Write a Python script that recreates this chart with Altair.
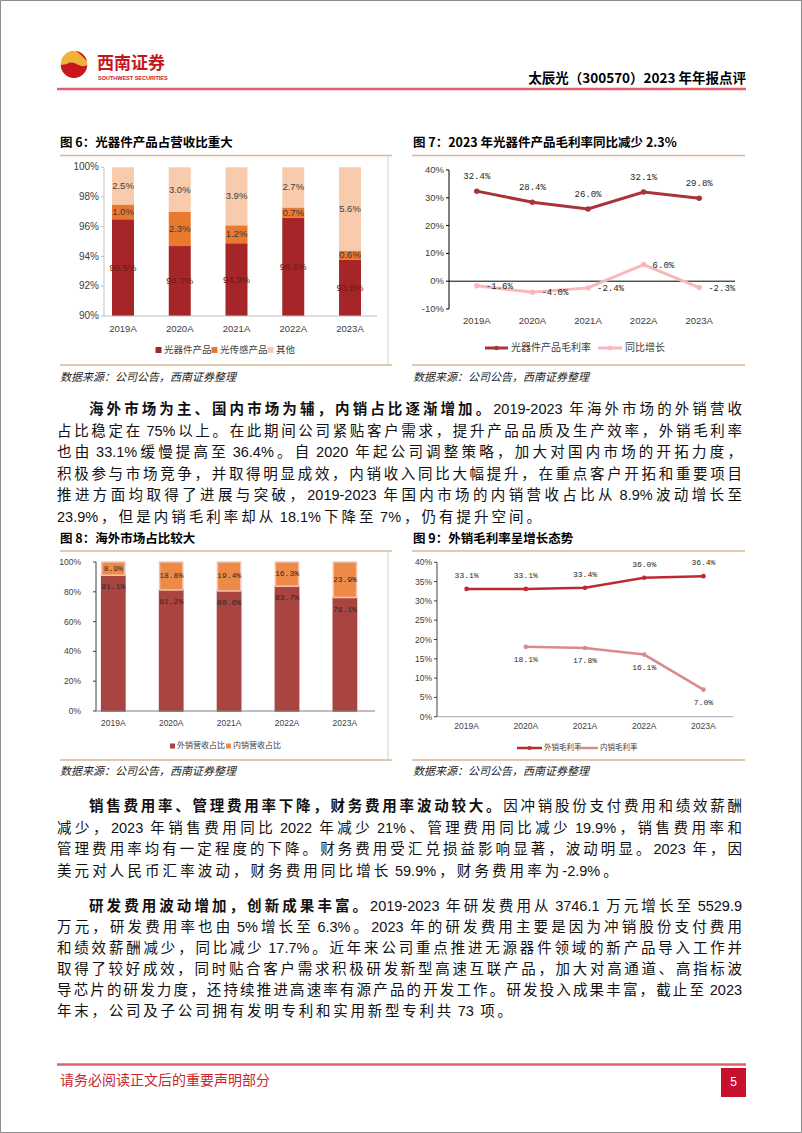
import altair as alt
import pandas as pd

W, H = 802, 1133
CJK = "Noto Sans CJK SC"
LAT = "Liberation Sans"
MONO = "Liberation Mono"
NARROW = "Liberation Sans Narrow, Liberation Sans"

years = ["2019A", "2020A", "2021A", "2022A", "2023A"]

# ---------------- data ----------------
fig6_series = ["光器件产品", "光传感产品", "其他"]
fig6_optical = [96.5, 94.7, 94.9, 96.6, 93.8]
fig6_sensing = [1.0, 2.3, 1.2, 0.7, 0.6]
fig6_other = [2.5, 3.0, 3.9, 2.7, 5.6]
fig6_ticks = [90, 92, 94, 96, 98, 100]

fig7_series = ["光器件产品毛利率", "同比增长"]
fig7_margin = [32.4, 28.4, 26.0, 32.1, 29.8]
fig7_yoy = [-1.6, -4.0, -2.4, 6.0, -2.3]
fig7_ticks = [-10, 0, 10, 20, 30, 40]

fig8_series = ["外销营收占比", "内销营收占比"]
fig8_export = [91.1, 81.2, 80.6, 83.7, 76.1]
fig8_domestic = [8.9, 18.8, 19.4, 16.3, 23.9]
fig8_ticks = [0, 20, 40, 60, 80, 100]

fig9_series = ["外销毛利率", "内销毛利率"]
fig9_export = [33.1, 33.1, 33.4, 36.0, 36.4]
fig9_domestic = [None, 18.1, 17.8, 16.1, 7.0]
fig9_ticks = [0, 5, 10, 15, 20, 25, 30, 35, 40]

header_title = "太辰光（300570）2023 年年报点评"
fig_titles = ["图 6：光器件产品占营收比重大", "图 7：2023 年光器件产品毛利率同比减少 2.3%",
              "图 8：海外市场占比较大", "图 9：外销毛利率呈增长态势"]
source_text = "数据来源：公司公告，西南证券整理"
footer_text = "请务必阅读正文后的重要声明部分"
page_no = "5"

para1 = [
    ("海外市场为主、国内市场为辅，内销占比逐渐增加。", "2019-2023 年海外市场的外销营收"),
    ("", "占比稳定在 75%以上。在此期间公司紧贴客户需求，提升产品品质及生产效率，外销毛利率"),
    ("", "也由 33.1%缓慢提高至 36.4%。自 2020 年起公司调整策略，加大对国内市场的开拓力度，"),
    ("", "积极参与市场竞争，并取得明显成效，内销收入同比大幅提升，在重点客户开拓和重要项目"),
    ("", "推进方面均取得了进展与突破，2019-2023 年国内市场的内销营收占比从 8.9%波动增长至"),
    ("", "23.9%，但是内销毛利率却从 18.1%下降至 7%，仍有提升空间。"),
]
para2 = [
    ("销售费用率、管理费用率下降，财务费用率波动较大。", "因冲销股份支付费用和绩效薪酬"),
    ("", "减少，2023 年销售费用同比 2022 年减少 21%、管理费用同比减少 19.9%，销售费用率和"),
    ("", "管理费用率均有一定程度的下降。财务费用受汇兑损益影响显著，波动明显。2023 年，因"),
    ("", "美元对人民币汇率波动，财务费用同比增长 59.9%，财务费用率为-2.9%。"),
]
para3 = [
    ("研发费用波动增加，创新成果丰富。", "2019-2023 年研发费用从 3746.1 万元增长至 5529.9"),
    ("", "万元，研发费用率也由 5%增长至 6.3%。2023 年的研发费用主要是因为冲销股份支付费用"),
    ("", "和绩效薪酬减少，同比减少 17.7%。近年来公司重点推进无源器件领域的新产品导入工作并"),
    ("", "取得了较好成效，同时贴合客户需求积极研发新型高速互联产品，加大对高通道、高指标波"),
    ("", "导芯片的研发力度，还持续推进高速率有源产品的开发工作。研发投入成果丰富，截止至 2023"),
    ("", "年末，公司及子公司拥有发明专利和实用新型专利共 73 项。"),
]

dummy = alt.Data(values=[{"a": 1}])

# ---------------- helpers ----------------
def band(domain, a0, a1, first_center, step, bw):
    n = len(domain)
    L = a1 - a0
    pi = 1 - bw / step
    po = max(0.0, (L / step - (n - pi)) / 2)
    st = L / (n - pi + 2 * po)
    left = L - st * (n - pi)
    start = first_center - st * (1 - pi) / 2
    al = (start - a0) / left if left > 0 else 0.5
    al = min(1.0, max(0.0, al))
    return alt.Scale(domain=domain, range=[a0, a1], paddingInner=pi, paddingOuter=po, align=al)


def txt(s, x, y, size, color="#000", weight="normal", align="left", font=CJK, style="normal"):
    return alt.Chart(dummy).mark_text(text=s, align=align, baseline="middle", fontSize=size,
                                      fontWeight=weight, color=color, font=font,
                                      fontStyle=style).encode(x=alt.value(x), y=alt.value(y))


def hline(x0, x1, y, color, w=1.0):
    return alt.Chart(dummy).mark_rule(color=color, strokeWidth=w).encode(
        x=alt.value(x0), x2=alt.value(x1), y=alt.value(y))


def vline(x, y0, y1, color, w=1.0):
    return alt.Chart(dummy).mark_rule(color=color, strokeWidth=w).encode(
        x=alt.value(x), y=alt.value(y0), y2=alt.value(y1))


def sq(x, y, color, size=36):
    return alt.Chart(dummy).mark_square(color=color, size=size, opacity=1).encode(
        x=alt.value(x), y=alt.value(y))


def dot(x, y, color, size=20):
    return alt.Chart(dummy).mark_circle(color=color, size=size, opacity=1).encode(
        x=alt.value(x), y=alt.value(y))


def y_axis(ys, vals, x0, lab_x, size, font, color="#404040", dcolor="#404040", tick=3):
    df = pd.DataFrame({"v": vals, "lab": [f"{v}%" for v in vals]})
    labels = alt.Chart(df).mark_text(align="right", baseline="middle", fontSize=size, font=font,
                                     color=color).encode(
        y=alt.Y("v:Q", scale=ys, axis=None), x=alt.value(lab_x), text="lab:N")
    out = [labels]
    if tick:
        out.append(alt.Chart(df).mark_rule(color=dcolor).encode(
            y=alt.Y("v:Q", scale=ys, axis=None), x=alt.value(x0 - tick), x2=alt.value(x0)))
    out.append(alt.Chart(pd.DataFrame({"a": [min(vals)], "b": [max(vals)]})).mark_rule(
        color=dcolor).encode(y=alt.Y("a:Q", scale=ys, axis=None), y2="b:Q", x=alt.value(x0)))
    return out


def x_axis(xs, y_lab, size, font, a0=None, a1=None, y0=None, dcolor="#404040"):
    df = pd.DataFrame({"year": years})
    out = [alt.Chart(df).mark_text(baseline="middle", fontSize=size, font=font,
                                   color="#404040").encode(
        x=alt.X("year:N", scale=xs, axis=None), y=alt.value(y_lab), text="year:N")]
    if a0 is not None:
        out.append(hline(a0, a1, y0, dcolor))
    return out


ASCII_W = {".": 0.278, "%": 0.889, "-": 0.333}


def tokens(part, bold, fs):
    out = []
    gap = 0.0
    buf = ""
    bgap = 0.0
    for ch in part + "\0":
        if ch == "\0" or ch == " " or ord(ch) > 0x2000:
            if buf:
                w = sum(ASCII_W.get(c, 0.556) for c in buf) * fs
                out.append(dict(text=buf, w=w, gap=bgap, bold=bold, kind="lat"))
                buf = ""
            if ch == " ":
                gap += 0.25 * fs
            elif ch != "\0":
                out.append(dict(text=ch, w=fs, gap=gap, bold=bold, kind="cjk"))
                gap = 0.0
        else:
            if not buf:
                bgap = gap
                gap = 0.0
            buf += ch
    return out


def layout_para(lines, y0, dy, x0, x1, indent, fs):
    rows = []
    extras = []
    prepared = []
    for i, (b, n) in enumerate(lines):
        toks = tokens(b, True, fs) + tokens(n, False, fs)
        start = x0 + (indent if i == 0 else 0)
        natural = sum(t["gap"] + t["w"] for t in toks)
        last = i == len(lines) - 1
        ex = (x1 - start - natural) / (len(toks) - 1)
        if not last:
            extras.append(ex)
        prepared.append((toks, start, last, ex))
    avg = sum(extras) / len(extras) if extras else 0
    for i, (toks, start, last, ex) in enumerate(prepared):
        e = min(avg, ex) if last else ex
        x = start
        for t in toks:
            x += t["gap"]
            rows.append(dict(x=x, y=y0 + i * dy, text=t["text"], bold=t["bold"], kind=t["kind"]))
            x += t["w"] + e
    return rows


# ---------------- figure 6 ----------------
def fig6():
    rows = []
    specs = [(fig6_series[0], fig6_optical, "#A52528", "#6A1A1A"),
             (fig6_series[1], fig6_sensing, "#E9792F", "#3A3A3A"),
             (fig6_series[2], fig6_other, "#F8CBAD", "#404040")]
    for i, yr in enumerate(years):
        cum = 0.0
        for s, vals, col, tcol in specs:
            v = vals[i]
            st, en = cum, cum + v
            cum = en
            lo = max(st, 90.0)
            rows.append(dict(year=yr, series=s, start=st, end=en, mid=(lo + en) / 2,
                             label=f"{v:.1f}%", color=col, tcolor=tcol))
    df = pd.DataFrame(rows)
    xs = band(years, 104, 377, 123, 56.75, 22)
    ys = alt.Scale(domain=[90, 100], range=[316, 167.3], clamp=True)
    base = alt.Chart(df)
    bars = base.mark_bar().encode(
        x=alt.X("year:N", scale=xs, axis=None),
        y=alt.Y("start:Q", scale=ys, axis=None),
        y2="end:Q",
        color=alt.Color("color:N", scale=None))
    labels = base.mark_text(fontSize=9.5, font=LAT, baseline="middle").encode(
        x=alt.X("year:N", scale=xs, axis=None),
        y=alt.Y("mid:Q", scale=ys, axis=None),
        text="label:N",
        color=alt.Color("tcolor:N", scale=None))
    axes = (y_axis(ys, fig6_ticks, 104, 99, 10, LAT, dcolor="#BFBFBF")
            + x_axis(xs, 329, 9.5, LAT, 104, 377, 316, "#BFBFBF"))
    legend = [sq(158.5, 350, "#A52528"), txt(fig6_series[0], 164, 350, 9.5, "#404040"),
              sq(214.5, 350, "#E9792F"), txt(fig6_series[1], 220, 350, 9.5, "#404040"),
              sq(270.5, 350, "#F8CBAD"), txt(fig6_series[2], 276, 350, 9.5, "#404040")]
    return [alt.layer(bars, labels, *axes)] + legend


# ---------------- figure 7 ----------------
def fig7():
    rows = []
    for s, vals, col in [(fig7_series[0], fig7_margin, "#A8343A"),
                         (fig7_series[1], fig7_yoy, "#F7B9BC")]:
        for yr, v in zip(years, vals):
            rows.append(dict(year=yr, series=s, value=v, label=f"{v:.1f}%", color=col))
    df = pd.DataFrame(rows)
    xs = alt.Scale(type="point", domain=years, range=[449, 727], padding=0.5)
    ys = alt.Scale(domain=[-10, 40], range=[309, 170])
    base = alt.Chart(df)
    zero = alt.Chart(pd.DataFrame({"v": [0]})).mark_rule(color="#000", strokeWidth=1).encode(
        y=alt.Y("v:Q", scale=ys, axis=None), x=alt.value(449), x2=alt.value(735))
    line = base.mark_line(strokeWidth=3).encode(
        x=alt.X("year:N", scale=xs, axis=None),
        y=alt.Y("value:Q", scale=ys, axis=None),
        color=alt.Color("color:N", scale=None), detail="series:N")
    pts = base.mark_circle(size=30, opacity=1).encode(
        x=alt.X("year:N", scale=xs, axis=None),
        y=alt.Y("value:Q", scale=ys, axis=None),
        color=alt.Color("color:N", scale=None))
    lab1 = base.transform_filter(alt.datum.series == fig7_series[0]).mark_text(
        dy=-15, fontSize=9, font=MONO, color="#262626").encode(
        x=alt.X("year:N", scale=xs, axis=None), y=alt.Y("value:Q", scale=ys, axis=None),
        text="label:N")
    lab2 = base.transform_filter(alt.datum.series == fig7_series[1]).mark_text(
        dx=9, align="left", fontSize=9, font=MONO, color="#262626").encode(
        x=alt.X("year:N", scale=xs, axis=None), y=alt.Y("value:Q", scale=ys, axis=None),
        text="label:N")
    axes = (y_axis(ys, fig7_ticks, 449, 444, 9.5, LAT, dcolor="#000")
            + x_axis(xs, 321, 9.5, LAT))
    legend = [hline(485, 508, 348, "#A8343A", 3), dot(496.5, 348, "#A8343A", 22),
              txt(fig7_series[0], 511, 348, 10, "#404040"),
              hline(598, 622, 348, "#F7B9BC", 3), dot(610, 348, "#F7B9BC", 22),
              txt(fig7_series[1], 625, 348, 10, "#404040")]
    return [alt.layer(zero, line, pts, lab1, lab2, *axes)] + legend


# ---------------- figure 8 ----------------
def fig8():
    rows = []
    for i, yr in enumerate(years):
        e, d = fig8_export[i], fig8_domestic[i]
        rows.append(dict(year=yr, series=fig8_series[0], start=0, end=e, ly=e, dy=1,
                         label=f"{e:.1f}%", color="#A94541", stroke="#A94541"))
        rows.append(dict(year=yr, series=fig8_series[1], start=e, end=e + d, ly=e + d / 2, dy=0,
                         label=f"{d:.1f}%", color="#EE8A47", stroke="#F6C2AE"))
    df = pd.DataFrame(rows)
    xs = band(years, 96, 375, 113.3, 57.9, 23.3)
    ys = alt.Scale(domain=[0, 100], range=[711, 562])
    base = alt.Chart(df)
    bars = base.mark_bar(strokeWidth=1.5).encode(
        x=alt.X("year:N", scale=xs, axis=None),
        y=alt.Y("start:Q", scale=ys, axis=None),
        y2="end:Q",
        color=alt.Color("color:N", scale=None),
        stroke=alt.Stroke("stroke:N", scale=None))
    lab_e = base.transform_filter(alt.datum.dy == 1).mark_text(
        dy=12, fontSize=8, font=MONO, color="#2A2A2A").encode(
        x=alt.X("year:N", scale=xs, axis=None), y=alt.Y("ly:Q", scale=ys, axis=None),
        text="label:N")
    lab_d = base.transform_filter(alt.datum.dy == 0).mark_text(
        fontSize=8, font=MONO, color="#2A2A2A").encode(
        x=alt.X("year:N", scale=xs, axis=None), y=alt.Y("ly:Q", scale=ys, axis=None),
        text="label:N")
    axes = (y_axis(ys, fig8_ticks, 96, 81, 8.5, NARROW, dcolor="#404040")
            + x_axis(xs, 723, 8.5, NARROW, 96, 375, 711, "#7F7F7F"))
    legend = [sq(172.5, 746, "#A94541", 25), txt(fig8_series[0], 177, 746, 8, "#404040"),
              sq(228.5, 746, "#EE8A47", 25), txt(fig8_series[1], 233, 746, 8, "#404040")]
    return [alt.layer(bars, lab_e, lab_d, *axes)] + legend


# ---------------- figure 9 ----------------
def fig9():
    rows = []
    for s, vals, col in [(fig9_series[0], fig9_export, "#BE2A32"),
                         (fig9_series[1], fig9_domestic, "#DA8A8D")]:
        for yr, v in zip(years, vals):
            if v is None:
                continue
            rows.append(dict(year=yr, series=s, value=v, label=f"{v:.1f}%", color=col))
    df = pd.DataFrame(rows)
    xs = alt.Scale(type="point", domain=years, range=[437, 733], padding=0.5)
    ys = alt.Scale(domain=[0, 40], range=[716.7, 562.3])
    base = alt.Chart(df)
    line = base.mark_line(strokeWidth=2.5).encode(
        x=alt.X("year:N", scale=xs, axis=None),
        y=alt.Y("value:Q", scale=ys, axis=None),
        color=alt.Color("color:N", scale=None), detail="series:N")
    pts = base.mark_circle(size=22, opacity=1).encode(
        x=alt.X("year:N", scale=xs, axis=None), y=alt.Y("value:Q", scale=ys, axis=None),
        color=alt.Color("color:N", scale=None))
    lab1 = base.transform_filter(alt.datum.series == fig9_series[0]).mark_text(
        dy=-13, fontSize=8, font=MONO, color="#2A2A2A").encode(
        x=alt.X("year:N", scale=xs, axis=None), y=alt.Y("value:Q", scale=ys, axis=None),
        text="label:N")
    lab2 = base.transform_filter(alt.datum.series == fig9_series[1]).mark_text(
        dy=13, fontSize=8, font=MONO, color="#2A2A2A").encode(
        x=alt.X("year:N", scale=xs, axis=None), y=alt.Y("value:Q", scale=ys, axis=None),
        text="label:N")
    axes = (y_axis(ys, fig9_ticks, 437, 432, 8.5, NARROW, dcolor="#404040")
            + x_axis(xs, 726, 8.5, NARROW, 437, 733, 716.7, "#A6A6A6"))
    legend = [hline(517, 542, 748, "#BE2A32", 2.5), dot(529.5, 748, "#BE2A32", 18),
              txt(fig9_series[0], 544, 748, 7.5, "#404040"),
              hline(578, 598, 748, "#DA8A8D", 2.5),
              txt(fig9_series[1], 600, 748, 7.5, "#404040")]
    return [alt.layer(line, pts, lab1, lab2, *axes)] + legend


# ---------------- paragraphs ----------------
FS = 14.5
PX0, PX1 = 57, 742
prows = (layout_para(para1, 410, 21.6, PX0, PX1, 32, FS)
         + layout_para(para2, 807, 21.6, PX0, PX1, 32, FS)
         + layout_para(para3, 907, 21.0, PX0, PX1, 32, FS))
pdf = pd.DataFrame(prows)


def para_layer(df, font, weight):
    return alt.Chart(df).mark_text(align="left", baseline="middle", fontSize=FS, font=font,
                                   fontWeight=weight, color="#111").encode(
        x=alt.X("x:Q", scale=None, axis=None), y=alt.Y("y:Q", scale=None, axis=None),
        text="text:N")


para_layers = []
for kind, font in [("cjk", CJK), ("lat", LAT)]:
    for bold, weight in [(False, "normal"), (True, "bold")]:
        sub = pdf[(pdf.kind == kind) & (pdf.bold == bold)]
        if len(sub):
            para_layers.append(para_layer(sub, font, weight))

# ---------------- page furniture ----------------
border = alt.Chart(dummy).mark_rect(fill="white", fillOpacity=0, stroke="#8C8C8C",
                                    strokeWidth=1).encode(
    x=alt.value(0.5), x2=alt.value(801.5), y=alt.value(0.5), y2=alt.value(1132.5))

logo_gold = alt.Chart(dummy).mark_point(shape="circle", filled=True, size=700, color="#F0B23C",
                                        opacity=1).encode(x=alt.value(74), y=alt.value(64))
swirl = ("M -1 0.05 A 1 1 0 0 0 1 0.05 C 0.55 0.45 0.05 -0.35 -0.45 -0.05 "
         "C -0.7 0.1 -0.85 0.05 -1 0.05 Z "
         "M 0.15 -0.98 A 1 1 0 0 1 0.98 -0.2 C 0.7 -0.55 0.45 -0.75 0.15 -0.98 Z")
logo_red = alt.Chart(dummy).mark_point(shape=swirl, filled=True, size=700, color="#C8161D",
                                       opacity=1).encode(x=alt.value(74), y=alt.value(64))

furniture = [
    logo_gold, logo_red,
    txt("西南证券", 97, 64, 17, "#C8161D", "bold"),
    txt("SOUTHWEST SECURITIES", 98, 78, 5.5, "#C8161D", "bold", font=LAT),
    txt(header_title, 746, 79, 13.5, "#000", "bold", align="right"),
    hline(57, 746, 89, "#E0606E", 2.5),
    txt(fig_titles[0], 60, 143, 12.5, "#000", "bold"),
    txt(fig_titles[1], 413, 143, 12.5, "#000", "bold"),
    hline(60, 392, 155.5, "#D8B896", 1.5), hline(412, 745, 155.5, "#D8B896", 1.5),
    vline(388, 155, 365, "#D0D0D0", 1),
    hline(60, 392, 365, "#D8B896", 1.5), hline(412, 745, 365, "#D8B896", 1.5),
    txt(source_text, 60, 378, 11, "#222", style="italic"),
    txt(source_text, 413, 378, 11, "#222", style="italic"),
    txt(fig_titles[2], 60, 539, 12.5, "#000", "bold"),
    txt(fig_titles[3], 413, 539, 12.5, "#000", "bold"),
    hline(60, 392, 551, "#D8B896", 1.5), hline(412, 745, 551, "#D8B896", 1.5),
    vline(388, 551, 760, "#D0D0D0", 1),
    hline(60, 392, 760, "#D8B896", 1.5), hline(412, 745, 760, "#D8B896", 1.5),
    txt(source_text, 60, 772, 11, "#222", style="italic"),
    txt(source_text, 413, 772, 11, "#222", style="italic"),
    hline(57, 746, 1064.5, "#E0606E", 2.5),
    txt(footer_text, 60, 1081, 14, "#C8282D"),
    alt.Chart(dummy).mark_rect(color="#C8102E").encode(
        x=alt.value(721), x2=alt.value(746), y=alt.value(1068), y2=alt.value(1097)),
    txt(page_no, 733.5, 1082, 12, "#FFFFFF", align="center", font=LAT),
]

layers = furniture + fig6() + fig7() + fig8() + fig9() + para_layers + [border]

chart = alt.layer(*layers).resolve_scale(x="independent", y="independent").properties(
    width=W, height=H, autosize=alt.AutoSizeParams(type="none"),
    padding={"left": 0, "top": 0, "right": 0, "bottom": 0},
).configure_view(stroke=None).configure(background="white")

chart.save("out.html", embed_options={"renderer": "svg", "actions": False})
